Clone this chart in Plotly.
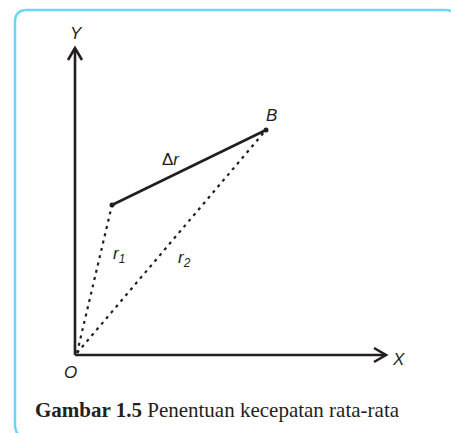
import plotly.graph_objects as go

# Diagram geometry (units = pixels relative to origin O)
origin = (0, 0)
point_A = (37, 150)       # start of displacement (r1 tip)
point_B = (191, 225)      # end of displacement (r2 tip)
x_axis_end = 311
y_axis_end = 307

labels = ["<i>Y</i>", "<i>X</i>", "<i>O</i>", "<i>B</i>", "Δ<i>r</i>",
          "<i>r</i><sub><i>1</i></sub>", "<i>r</i><sub><i>2</i></sub>"]
label_x = [1, 323, -5, 196, 96, 44, 109]
label_y = [322, -4, -17, 240, 196, 100, 96]

caption = "<b>Gambar 1.5</b> Penentuan kecepatan rata-rata"

AX_COLOR = "#231f20"
BORDER = "#72d3f8"
ARW = 12   # arrowhead length
ARH = 7    # arrowhead half width

fig = go.Figure()

# axes
fig.add_trace(go.Scatter(x=[origin[0], origin[0]], y=[origin[1], y_axis_end], mode="lines",
                         line=dict(color=AX_COLOR, width=2.6), hoverinfo="skip"))
fig.add_trace(go.Scatter(x=[origin[0], x_axis_end], y=[origin[1], origin[1]], mode="lines",
                         line=dict(color=AX_COLOR, width=2.6), hoverinfo="skip"))
# arrowheads (open chevrons)
fig.add_trace(go.Scatter(x=[origin[0] - ARH, origin[0], origin[0] + ARH],
                         y=[y_axis_end - ARW, y_axis_end, y_axis_end - ARW], mode="lines",
                         line=dict(color=AX_COLOR, width=2.6), hoverinfo="skip"))
fig.add_trace(go.Scatter(x=[x_axis_end - ARW, x_axis_end, x_axis_end - ARW],
                         y=[origin[1] + ARH, origin[1], origin[1] - ARH], mode="lines",
                         line=dict(color=AX_COLOR, width=2.6), hoverinfo="skip"))

# position vectors (dotted)
for P in (point_A, point_B):
    fig.add_trace(go.Scatter(x=[origin[0] + 2, P[0]], y=[origin[1] + 2, P[1]], mode="lines",
                             line=dict(color=AX_COLOR, width=2.2, dash="3px,4.5px"), hoverinfo="skip"))

# displacement
fig.add_trace(go.Scatter(x=[point_A[0], point_B[0]], y=[point_A[1], point_B[1]], mode="lines+markers",
                         line=dict(color=AX_COLOR, width=2.6),
                         marker=dict(color=AX_COLOR, size=5), hoverinfo="skip"))

for t, lx, ly in zip(labels, label_x, label_y):
    fig.add_annotation(x=lx, y=ly, text=t, showarrow=False, xanchor="center", yanchor="middle",
                       font=dict(family="Liberation Sans", size=17, color=AX_COLOR))

fig.add_annotation(x=-42, y=-55, text=caption, showarrow=False, xanchor="left", yanchor="middle",
                   font=dict(family="Liberation Serif", size=21, color=AX_COLOR))

# rounded border (right and bottom edges run just past the page edge)
x0, x1, y0, y1, r = -60, 382, -82, 345, 12
path = (f"M {x0+r},{y1} L {x1-r},{y1} Q {x1},{y1} {x1},{y1-r} L {x1},{y0+r} Q {x1},{y0} {x1-r},{y0} "
        f"L {x0+r},{y0} Q {x0},{y0} {x0},{y0+r} L {x0},{y1-r} Q {x0},{y1} {x0+r},{y1} Z")
fig.add_shape(type="path", path=path, xref="x", yref="y", line=dict(color=BORDER, width=2.5), layer="below")

fig.update_layout(width=451, height=433, margin=dict(l=0, r=0, t=0, b=0), autosize=False,
                  paper_bgcolor="white", plot_bgcolor="white", showlegend=False,
                  xaxis=dict(range=[-75, 376], visible=False, fixedrange=True),
                  yaxis=dict(range=[-78, 355], visible=False, fixedrange=True))
fig.write_html("out.html", config={"displayModeBar": False},
               post_script="document.body.style.margin='0';document.body.style.overflow='hidden';")
